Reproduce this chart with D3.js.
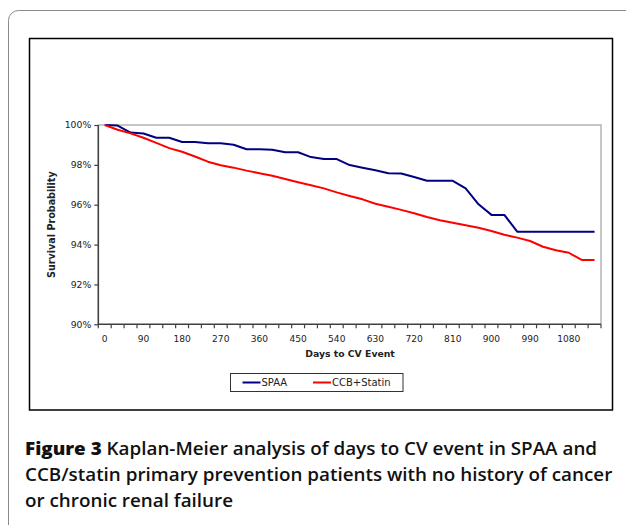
<!DOCTYPE html>
<html>
<head>
<meta charset="utf-8">
<script src="https://cdnjs.cloudflare.com/ajax/libs/d3/7.8.5/d3.min.js"></script>
<style>
    body { margin: 0; background: #fff; }
    svg { display: block; }
</style>
</head>
<body>
<div class="chart-svg"></div>
<script>
// days to event, one category every 30 days
var days = d3.range(0, 1141, 30);
var dayLabels = [0, 90, 180, 270, 360, 450, 540, 630, 720, 810, 900, 990, 1080];
var yTicks = [0.90, 0.92, 0.94, 0.96, 0.98, 1.00];

var spaa = [100, 99.97, 99.62, 99.57, 99.36, 99.36, 99.15, 99.15, 99.08, 99.08,
    99.01, 98.78, 98.78, 98.76, 98.63, 98.63, 98.39, 98.29, 98.29, 97.99,
    97.86, 97.73, 97.58, 97.57, 97.39, 97.2, 97.2, 97.2, 96.82, 96.02,
    95.49, 95.49, 94.65, 94.65, 94.65, 94.65, 94.65, 94.65, 94.65];
var ccbStatin = [100, 99.76, 99.58, 99.36, 99.1, 98.84, 98.66, 98.42, 98.16, 97.98,
    97.86, 97.71, 97.58, 97.45, 97.29, 97.13, 96.98, 96.82, 96.62, 96.44,
    96.27, 96.05, 95.9, 95.74, 95.57, 95.38, 95.22, 95.1, 94.97, 94.84,
    94.68, 94.49, 94.35, 94.18, 93.89, 93.72, 93.59, 93.23, 93.23];

var seriesNames = ['SPAA', 'CCB+Statin'];
var seriesColors = ['#000080', '#ff0000'];

var svgWidth = 626;
var svgHeight = 525;

var svg = d3.select(".chart-svg")
    .append("svg")
    .attr("width", svgWidth)
    .attr("height", svgHeight);

// outer frame of the figure
svg.append("rect")
    .attr("x", 8.5).attr("y", 10.5)
    .attr("width", 660).attr("height", 560)
    .attr("rx", 10).attr("ry", 10)
    .attr("fill", "none")
    .attr("stroke", "#8a8a8a");

// chart box
svg.append("rect")
    .attr("x", 29.5).attr("y", 38.5)
    .attr("width", 583).attr("height", 371.5)
    .attr("fill", "#fff")
    .attr("stroke", "#000")
    .attr("stroke-width", 1.5);

var plot = {left: 98.3, right: 601, top: 125, bottom: 324.3};

var xScale = d3.scaleBand()
    .domain(days)
    .range([plot.left, plot.right])
    .padding(0);

var yScale = d3.scaleLinear()
    .domain([0.90, 1.00])
    .range([plot.bottom, plot.top]);

var font = "Tahoma, 'DejaVu Sans', Verdana, sans-serif";

// plot area border (top and right in grey)
svg.append("path")
    .attr("d", "M" + plot.left + "," + plot.top + "H" + plot.right + "V" + plot.bottom)
    .attr("fill", "none")
    .attr("stroke", "#b4b4b4")
    .attr("stroke-width", 1.5);

// y axis
var yAxis = d3.axisLeft(yScale)
    .tickValues(yTicks)
    .tickFormat(d3.format(".0%"))
    .tickSize(4)
    .tickPadding(3);

var gy = svg.append("g")
    .attr("transform", "translate(" + plot.left + ",0)")
    .call(yAxis);
gy.select(".domain").remove();
gy.selectAll(".tick line").attr("stroke", "#404040").attr("stroke-width", 1.2);
gy.selectAll("text").attr("font-family", font).attr("font-size", 9.3).attr("fill", "#222");

// x axis: labels centred in category slots, ticks on the slot edges
var xAxis = d3.axisBottom(xScale)
    .tickValues(dayLabels)
    .tickSize(0)
    .tickPadding(11.5);

var gx = svg.append("g")
    .attr("transform", "translate(0," + plot.bottom + ")")
    .call(xAxis);
gx.select(".domain").remove();
gx.selectAll("text").attr("font-family", font).attr("font-size", 9.1).attr("fill", "#222");

var edges = days.map(function(d){ return xScale(d); }).concat([plot.right]);
svg.append("g").selectAll("line")
    .data(edges)
    .enter()
    .append("line")
    .attr("x1", function(d){ return d; })
    .attr("x2", function(d){ return d; })
    .attr("y1", plot.bottom)
    .attr("y2", plot.bottom + 4)
    .attr("stroke", "#404040")
    .attr("stroke-width", 1.2);

// axis lines
svg.append("path")
    .attr("d", "M" + plot.left + "," + plot.top + "V" + plot.bottom + "H" + plot.right)
    .attr("fill", "none")
    .attr("stroke", "#404040")
    .attr("stroke-width", 1.6);

// axis titles
svg.append("text")
    .attr("x", 350)
    .attr("y", 357)
    .attr("text-anchor", "middle")
    .attr("font-family", font)
    .attr("font-size", 9.3)
    .attr("font-weight", "bold")
    .attr("fill", "#222")
    .text("Days to CV Event");

svg.append("text")
    .attr("transform", "translate(55," + ((plot.top + plot.bottom) / 2) + ") rotate(-90)")
    .attr("text-anchor", "middle")
    .attr("font-family", font)
    .attr("font-size", 9.6)
    .attr("font-weight", "bold")
    .attr("fill", "#222")
    .text("Survival Probability");

// survival lines
var line = d3.line()
    .x(function(d, i){ return xScale(days[i]) + xScale.bandwidth() / 2; })
    .y(function(d){ return yScale(d / 100); });

[spaa, ccbStatin].forEach(function(s, i){
    svg.append("path")
        .datum(s)
        .attr("d", line)
        .attr("fill", "none")
        .attr("stroke", seriesColors[i])
        .attr("stroke-width", 2)
        .attr("stroke-linejoin", "round");
});

// legend
var legend = svg.append("g");
legend.append("rect")
    .attr("x", 230.5).attr("y", 373.5)
    .attr("width", 172.5).attr("height", 18)
    .attr("fill", "#fff")
    .attr("stroke", "#333");

var legendX = [242.5, 313];
seriesNames.forEach(function(name, i){
    legend.append("line")
        .attr("x1", legendX[i]).attr("x2", legendX[i] + 18)
        .attr("y1", 382.5).attr("y2", 382.5)
        .attr("stroke", seriesColors[i])
        .attr("stroke-width", 2);
    legend.append("text")
        .attr("x", legendX[i] + 19)
        .attr("y", 386.3)
        .attr("font-family", font)
        .attr("font-size", 10)
        .attr("fill", "#222")
        .text(name);
});

// caption
var captionLines = [
    ["Figure 3", " Kaplan-Meier analysis of days to CV event in SPAA and"],
    ["", "CCB/statin primary prevention patients with no history of cancer"],
    ["", "or chronic renal failure"]
];
var captionY = [455.5, 481.5, 507.5];

var caption = svg.append("g").attr("transform", "translate(25,0)");
var capTexts = captionLines.map(function(parts, i){
    var t = caption.append("text")
        .attr("x", 0)
        .attr("y", captionY[i])
        .attr("font-family", "'Open Sans', 'Noto Sans', sans-serif")
        .attr("font-size", 18)
        .attr("font-weight", 600)
        .attr("fill", "#111");
    if (parts[0]) {
        t.append("tspan").attr("font-weight", 800).text(parts[0]);
    }
    t.append("tspan").text(parts[1]);
    return t;
});

// squeeze the caption to the narrow width of the original typeface
var w = capTexts[1].node().getComputedTextLength();
var sx = 588 / w;
caption.attr("transform", "translate(25,0) scale(" + sx + ",1)");
</script>
</body>
</html>
